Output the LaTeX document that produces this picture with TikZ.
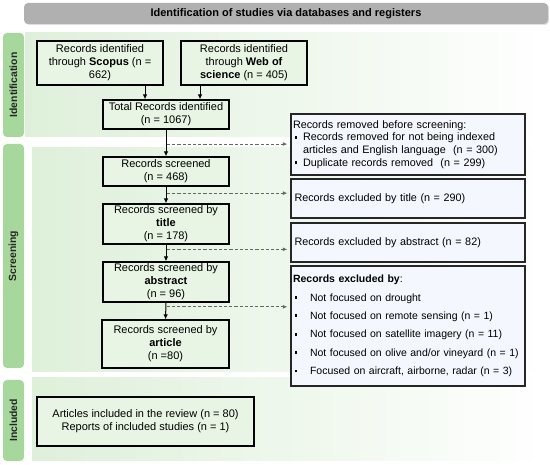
\documentclass[tikz,border=0pt]{standalone}
\usepackage{fontspec}
\setmainfont{Liberation Sans}
\usetikzlibrary{arrows.meta,calc,shadows}
\definecolor{lab}{RGB}{166,216,156}
\definecolor{pan}{RGB}{222,240,218}
\definecolor{lbox}{RGB}{232,245,228}
\definecolor{rbox}{RGB}{244,247,253}
\definecolor{hdr}{RGB}{176,176,176}
\newcommand{\sqbul}{\makebox[10pt][l]{\hspace{1.5pt}\raisebox{2.4pt}{\rule{2.7pt}{2.7pt}}}}
\newcommand{\sqbulw}{\makebox[17pt][l]{\hspace{1.5pt}\raisebox{2.4pt}{\rule{2.7pt}{2.7pt}}}}
\begin{document}
\begin{tikzpicture}[x=1pt,y=-1pt,
 txt/.style={font=\fontsize{11}{13}\selectfont},
 lb/.style={txt, draw=black, line width=1.2pt, fill=lbox, align=center, inner sep=1pt},
 rb/.style={font=\fontsize{10.8}{12.6}\selectfont, draw=black!85, line width=1.3pt, fill=rbox, align=left, inner sep=2pt, minimum width=234pt, text width=230pt},
 side/.style={draw=none, fill=lab, rounded corners=4pt, rotate=90, font=\fontsize{10.4}{12}\selectfont\bfseries, text=black!85, minimum height=21pt},
 arr/.style={-{Latex[length=5pt,width=4.5pt]}, line width=1pt},
 darr/.style={-{Latex[length=4.5pt,width=4pt]}, line width=0.9pt, draw=black!60, dash pattern=on 3.2pt off 2pt, shorten >=3pt},
]
\useasboundingbox (0,0) rectangle (550,465);
% panels
\shade[left color=pan, right color=white] (25,33) rectangle (550,137);
\shade[left color=pan, right color=white] (32,148) rectangle (550,372);
\shade[left color=pan, right color=white] (32,378) rectangle (550,461);
% header
\node[fill=hdr, rounded corners=4pt, minimum width=524pt, minimum height=21pt,
      font=\fontsize{11}{13}\selectfont\bfseries,
      drop shadow={opacity=0.25, shadow xshift=1pt, shadow yshift=-1pt}] (hdr) at (286,13.5)
      {Identification of studies via databases and registers};
% side labels
\node[side, minimum width=104pt] (sid) at (13.5,85) {Identification};
\node[side, minimum width=224pt] (sscr) at (13.5,256) {Screening};
\node[side, minimum width=81pt] (sinc) at (13.5,420.5) {Included};
% left boxes
\node[lb, minimum width=126pt, minimum height=44pt] (scopus) at (100,63)
  {Records identified\\through \textbf{Scopus} (n =\\662)};
\node[lb, minimum width=126pt, minimum height=44pt] (wos) at (244,63)
  {Records identified\\through \textbf{Web of}\\\textbf{science} (n = 405)};
\node[lb, minimum width=126pt, minimum height=29pt] (total) at (166,114.5)
  {Total Records identified\\(n = 1067)};
\node[lb, minimum width=126pt, minimum height=29pt] (screened) at (166,171.5)
  {Records screened\\(n = 468)};
\node[lb, minimum width=126pt, minimum height=40pt] (title) at (166,224)
  {Records screened by\\\textbf{title}\\(n = 178)};
\node[lb, minimum width=126pt, minimum height=40pt] (abstract) at (166,282)
  {Records screened by\\\textbf{abstract}\\(n = 96)};
\node[lb, minimum width=127pt, minimum height=48pt] (article) at (165.5,344)
  {Records screened by\\\textbf{article}\\(n =80)};
\node[lb, minimum width=217pt, minimum height=49pt] (included) at (145.5,421.5)
  {Articles included in the review (n = 80)\\Reports of included studies (n = 1)};
% right boxes
\node[rb, minimum height=61pt] (removed) at (408,144.5)
  {Records removed before screening:\\
   \sqbul Records removed for not being indexed\\
   \hspace*{10pt}articles and English language\ \ (n = 300)\\
   \sqbul Duplicate records removed\ \ (n = 299)};
\node[rb, minimum height=39pt] (excltitle) at (408,198.5)
  {\hspace*{1.5pt}Records excluded by title (n = 290)};
\node[rb, minimum height=39pt] (exclabs) at (408,242.5)
  {\hspace*{1.5pt}Records excluded by abstract (n = 82)};
\node[rb, minimum height=120pt, font=\fontsize{10.5}{12.4}\selectfont] (exclby) at (408,326)
  {\textbf{Records excluded by}:\\[6pt]
   \sqbulw Not focused on drought\\[6pt]
   \sqbulw Not focused on remote sensing (n = 1)\\[6pt]
   \sqbulw Not focused on satellite imagery (n = 11)\\[6pt]
   \sqbulw Not focused on olive and/or vineyard (n = 1)\\[6pt]
   \sqbulw Focused on aircraft, airborne, radar (n = 3)};
% solid arrows
\draw[arr] ([xshift=45pt]scopus.south) -- ([xshift=45pt]scopus.south |- total.north);
\draw[arr] ([xshift=-44pt]wos.south) -- ([xshift=-44pt]wos.south |- total.north);
\draw[arr] (total.south) -- (screened.north);
\draw[arr] (screened.south) -- (title.north);
\draw[arr] (title.south) -- (abstract.north);
\draw[arr] (abstract.south) -- (article.north);
% dashed arrows
\coordinate (d1) at ($(total.south)!0.54!(screened.north)$);
\coordinate (d2) at ($(screened.south)!0.39!(title.north)$);
\coordinate (d3) at ($(title.south)!0.28!(abstract.north)$);
\coordinate (d4) at ($(abstract.south)!0.25!(article.north)$);
\draw[darr] ([xshift=1pt]d1) -- (d1 -| removed.west);
\draw[darr] ([xshift=1pt]d2) -- (d2 -| excltitle.west);
\draw[darr] ([xshift=1pt]d3) -- (d3 -| exclabs.west);
\draw[darr] ([xshift=1pt]d4) -- (d4 -| exclby.west);
\end{tikzpicture}
\end{document}
